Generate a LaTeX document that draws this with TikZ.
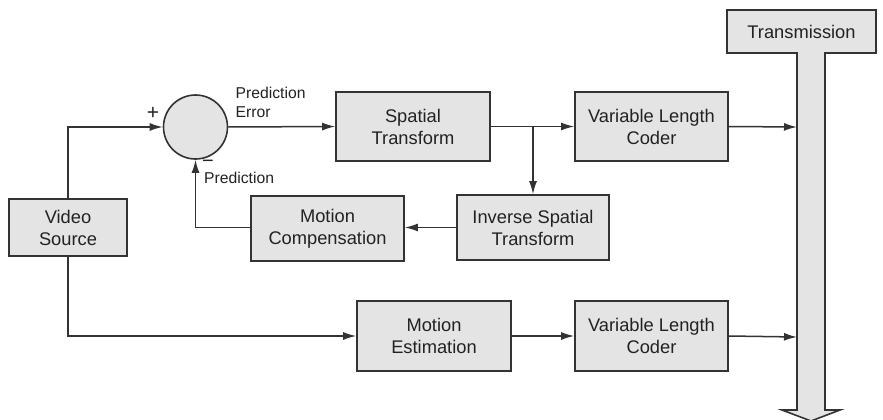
\documentclass[tikz,border=0pt]{standalone}
\usepackage{fontspec}
\setmainfont{Liberation Sans}
\usetikzlibrary{arrows.meta}
\definecolor{boxfill}{HTML}{E4E4E4}
\definecolor{boxline}{HTML}{333333}
\definecolor{txt}{HTML}{222222}
\tikzset{
  blk/.style={draw=boxline, fill=boxfill, line width=1.6pt, align=center, inner sep=0pt,
    text=txt, font=\fontsize{18.3}{22}\selectfont},
  lbl/.style={font=\fontsize{15.7}{18.5}\selectfont, inner sep=0pt, align=left, text=txt},
  conn/.style={draw=boxline, line width=1.5pt},
  arr/.style={conn, -{Latex[length=13pt,width=8pt]}}
}
\begin{document}
\begin{tikzpicture}[x=1pt,y=-1pt]
\useasboundingbox (0,0) rectangle (883,420);
% boxes
\node[blk, minimum width=118pt, minimum height=57pt] (vs) at (68,227.5) {Video\\Source};
\node[blk, circle, minimum size=64pt] (sum) at (195.5,127) {};
\node[blk, minimum width=154pt, minimum height=69pt] (st) at (413,126.5) {Spatial\\Transform};
\node[blk, minimum width=153pt, minimum height=69pt] (vlcA) at (651.5,126.5) {Variable Length\\Coder};
\node[blk, minimum width=152pt, minimum height=65pt] (ist) at (533,227.5) {Inverse Spatial\\Transform};
\node[blk, minimum width=153pt, minimum height=65pt] (mc) at (327.5,228.5) {Motion\\Compensation};
\node[blk, minimum width=154pt, minimum height=70pt] (me) at (434,336) {Motion\\Estimation};
\node[blk, minimum width=153pt, minimum height=70pt] (vlcB) at (651.5,336) {Variable Length\\Coder};
% transmission T-arrow
\draw[draw=boxline, fill=boxfill, line width=1.6pt, line join=miter]
  (727,10) -- (876,10) -- (876,53) -- (825,53) -- (825,410) -- (840,410) -- (811,421)
  -- (782,410) -- (797,410) -- (797,53) -- (727,53) -- cycle;
\node[font=\fontsize{18.3}{22}\selectfont, inner sep=0pt, text=txt] (tr) at (801.5,31.5) {Transmission};
\coordinate (tA) at (797,127);
\coordinate (tB) at (797,337);
\coordinate (br) at (533,127);
% connectors
\draw[arr] (vs.north) |- (sum.west);
\draw[arr] (sum.east) -- (st.west);
\draw[arr] (st.east) -- (vlcA.west);
\draw[arr] (br) -- (ist.north);
\draw[arr] (vlcA.east) -- (tA);
\draw[arr] (ist.west) -- (mc.east |- ist.west);
\draw[arr] (mc.west |- ist.west) -| (sum.south);
\draw[arr] (vs.south) |- (me.west);
\draw[arr] (me.east) -- (vlcB.west);
\draw[arr] (vlcB.east) -- (tB);
% labels
\node[lbl, font=\fontsize{21}{24}\selectfont] (plus) at (153,113) {+};
\node[lbl, font=\fontsize{20}{24}\selectfont] (minus) at (208,164) {−};
\node[lbl, anchor=north west] (pe) at (235.5,87) {Prediction\\Error};
\node[lbl, anchor=west] (pr) at (204,178) {Prediction};
\end{tikzpicture}
\end{document}
